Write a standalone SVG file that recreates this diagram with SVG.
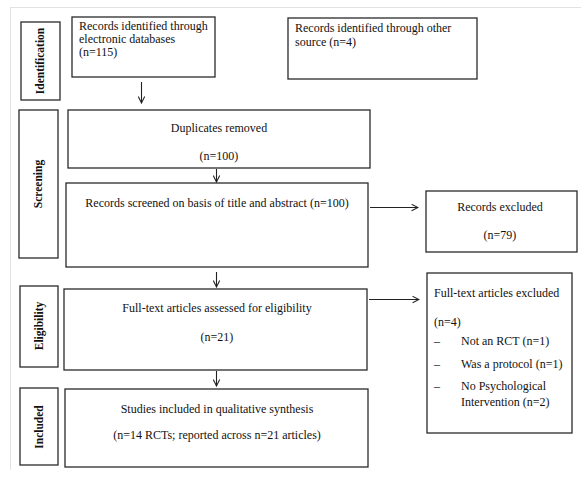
<svg xmlns="http://www.w3.org/2000/svg" width="581" height="487" viewBox="0 0 581 487">
<style>
  .box{fill:#fff;stroke:#2a2a2a;stroke-width:1.3}
  .t{font-family:"Liberation Serif","Times New Roman","DejaVu Serif",serif;font-size:12px;fill:#111}
  .m{text-anchor:middle}
  .lab{font-family:"Liberation Serif","Times New Roman","DejaVu Serif",serif;font-size:11.5px;font-weight:bold;fill:#111;text-anchor:middle}
  .c{stroke:#222;stroke-width:1.1;fill:none}
</style>
<defs>
  <marker id="ah" viewBox="0 0 10 10" refX="9" refY="5" markerWidth="8" markerHeight="8" markerUnits="userSpaceOnUse" orient="auto">
    <path d="M1,1 L9,5 L1,9" fill="none" stroke="#222" stroke-width="1.3"/>
  </marker>
</defs>
<rect width="581" height="487" fill="#fff"/>
<g id="frame">
  <line x1="10" y1="7.5" x2="581" y2="7.5" stroke="#e2e2e2" stroke-width="1"/>
  <line x1="10.5" y1="7" x2="10.5" y2="470" stroke="#e2e2e2" stroke-width="1"/>
</g>
<g id="lab-identification">
  <rect class="box" x="21" y="22" width="39" height="78"/>
  <text class="lab" transform="translate(44,61) rotate(-90)">Identification</text>
</g>
<g id="lab-screening">
  <rect class="box" x="19" y="110" width="39" height="148"/>
  <text class="lab" transform="translate(42,184) rotate(-90)">Screening</text>
</g>
<g id="lab-eligibility">
  <rect class="box" x="20" y="286" width="38" height="81"/>
  <text class="lab" transform="translate(43,326) rotate(-90)">Eligibility</text>
</g>
<g id="lab-included">
  <rect class="box" x="20" y="388" width="38" height="77"/>
  <text class="lab" transform="translate(43,427) rotate(-90)">Included</text>
</g>
<g id="n-electronic">
  <rect class="box" x="72" y="17" width="143" height="60"/>
  <text class="t" x="79" y="30">Records identified through</text>
  <text class="t" x="79" y="43">electronic  databases</text>
  <text class="t" x="79" y="56">(n=115)</text>
</g>
<g id="n-other">
  <rect class="box" x="288" y="18" width="189" height="61"/>
  <text class="t" x="295" y="32">Records identified through other</text>
  <text class="t" x="295" y="46">source (n=4)</text>
</g>
<g id="n-duplicates">
  <rect class="box" x="68" y="110" width="302" height="58"/>
  <text class="t m" x="219" y="132">Duplicates removed</text>
  <text class="t m" x="219" y="160">(n=100)</text>
</g>
<g id="n-screened">
  <rect class="box" x="66" y="183" width="302" height="84"/>
  <text class="t m" x="217" y="207">Records screened on basis of title and abstract  (n=100)</text>
</g>
<g id="n-excluded">
  <rect class="box" x="426" y="191" width="151" height="61"/>
  <text class="t m" x="500" y="211">Records excluded</text>
  <text class="t m" x="500" y="239">(n=79)</text>
</g>
<g id="n-fulltext">
  <rect class="box" x="64" y="289" width="303" height="81"/>
  <text class="t m" x="217" y="312">Full-text articles  assessed for eligibility</text>
  <text class="t m" x="217" y="341">(n=21)</text>
</g>
<g id="n-ft-excluded">
  <rect class="box" x="427" y="273" width="145" height="160"/>
  <text class="t" x="434" y="297">Full-text articles  excluded</text>
  <text class="t" x="434" y="326">(n=4)</text>
  <text class="t" x="434" y="345">–</text>
  <text class="t" x="461" y="345">Not an RCT (n=1)</text>
  <text class="t" x="434" y="368">–</text>
  <text class="t" x="461" y="368">Was a protocol (n=1)</text>
  <text class="t" x="434" y="390">–</text>
  <text class="t" x="461" y="390">No Psychological</text>
  <text class="t" x="461" y="406">Intervention  (n=2)</text>
</g>
<g id="n-included">
  <rect class="box" x="65" y="389" width="303" height="78"/>
  <text class="t m" x="217" y="413">Studies included in qualitative  synthesis</text>
  <text class="t m" x="217" y="439">(n=14 RCTs; reported across n=21 articles)</text>
</g>
<g id="connectors">
  <line class="c" x1="141.5" y1="82" x2="141.5" y2="103" marker-end="url(#ah)"/>
  <line class="c" x1="216.5" y1="169" x2="216.5" y2="182" marker-end="url(#ah)"/>
  <line class="c" x1="370" y1="207.5" x2="418" y2="207.5" marker-end="url(#ah)"/>
  <line class="c" x1="216.5" y1="272" x2="216.5" y2="287" marker-end="url(#ah)"/>
  <line class="c" x1="369" y1="299.5" x2="419" y2="299.5" marker-end="url(#ah)"/>
  <line class="c" x1="216.5" y1="371" x2="216.5" y2="386" marker-end="url(#ah)"/>
</g>
</svg>
